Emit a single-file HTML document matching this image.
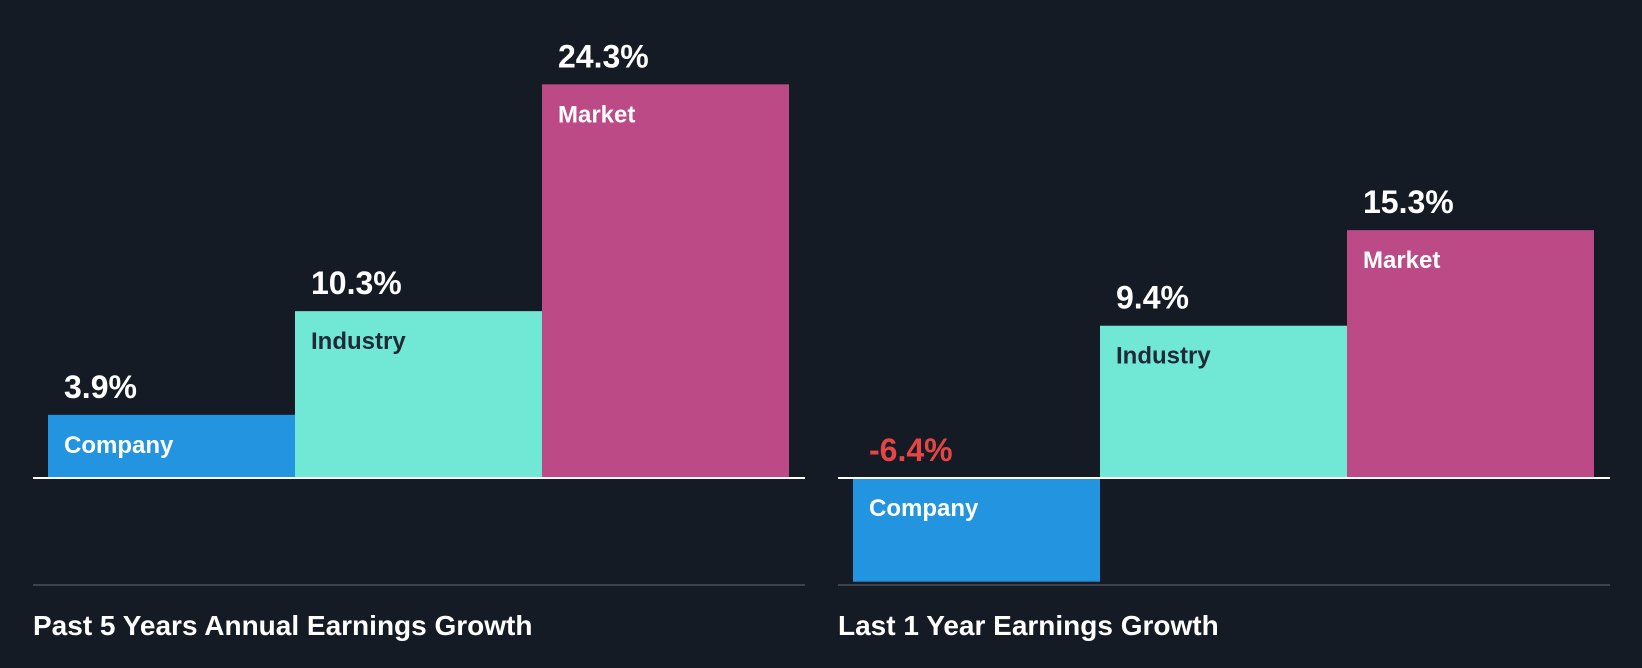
<!DOCTYPE html>
<html><head><meta charset="utf-8"><style>
body{margin:0;background:#151b24;}
svg{display:block;font-family:"Liberation Sans",Arial,sans-serif;font-weight:bold;}
</style></head><body>
<svg id="c" width="1642" height="668" viewBox="0 0 1642 668"></svg>
<script>
const categories = ["Company","Industry","Market"];
const past5Values = [3.9, 10.3, 24.3];
const last1Values = [-6.4, 9.4, 15.3];
const panelTitles = ["Past 5 Years Annual Earnings Growth","Last 1 Year Earnings Growth"];
const colors = ["#2394df","#71e7d6","#bb4a86"];
const labelColors = ["#ffffff","#1f2a36","#ffffff"];
const svg = document.getElementById('c');
const NS = 'http://www.w3.org/2000/svg';
const baseY = 478, pxPer = 16.2;
function y(v){ return baseY - v*pxPer; }
function mk(tag, attrs, parent){ const e=document.createElementNS(NS,tag); for(const k in attrs) e.setAttribute(k,attrs[k]); (parent||svg).appendChild(e); return e; }
function panel(x0, values, title, idx){
  const g = mk('g',{});
  
  
  const bw = 247, start = x0 + 15;
  values.forEach((v,i)=>{
    const bx = start + i*bw;
    const top = Math.min(y(v), baseY), h = Math.abs(y(v)-baseY);
    const r = mk('rect',{x:bx,y:top,width:bw,height:h,fill:colors[i]},g);
    
    
    const vt = mk('text',{x:bx+16,y:(v>=0? top-17 : baseY-17),'font-size':32,fill:(v<0?'#e64545':'#ffffff')},g);
    vt.textContent = (v<0?'-':'') + Math.abs(v).toFixed(1) + '%';
    
    
    const ct = mk('text',{x:bx+16,y:top+38,'font-size':24,fill:labelColors[i]},g);
    ct.textContent = categories[i];
    
    
  });
  const bl = mk('rect',{x:x0,y:baseY-1,width:772,height:2,fill:'#ffffff'},g);
  
  
  const bot = mk('rect',{x:x0,y:584,width:772,height:2,fill:'#3d424b'},g);
  
  
  const t = mk('text',{x:x0,y:635,'font-size':28,fill:'#ffffff'},g);
  t.textContent = title;
  
  
}
panel(33, past5Values, panelTitles[0], 0);
panel(838, last1Values, panelTitles[1], 1);
</script>
</body></html>
